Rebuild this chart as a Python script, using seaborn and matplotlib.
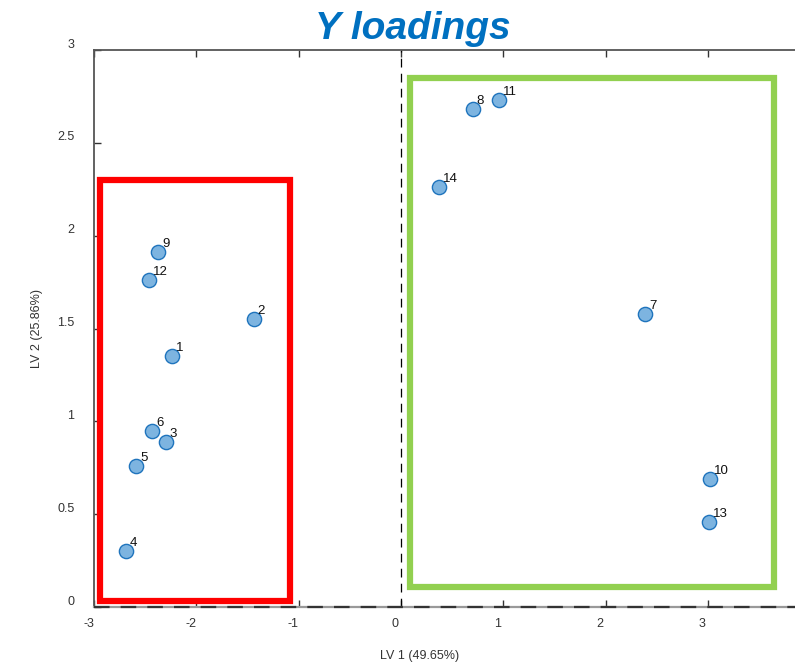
import matplotlib
matplotlib.use("Agg")
import matplotlib.pyplot as plt
import matplotlib.transforms as mtransforms
import seaborn as sns
import pandas as pd

# ── Data: Y loadings ────────────────────────────────────────────────
labels = ["1", "2", "3", "4", "5", "6", "7", "8", "9", "10", "11", "12", "13", "14"]
lv1 = [-2.24, -1.44, -2.30, -2.69, -2.59, -2.43, 2.39, 0.70, -2.37, 3.02, 0.96, -2.46, 3.01, 0.37]
lv2 = [1.35, 1.55, 0.89, 0.30, 0.76, 0.95, 1.58, 2.68, 1.91, 0.69, 2.73, 1.76, 0.46, 2.26]

# group boxes: (x0, y0, x1, y1)
red_box = (-2.94, 0.035, -1.08, 2.30)
green_box = (0.09, 0.11, 3.65, 2.85)

x_ticks = [-3, -2, -1, 0, 1, 2, 3]
y_ticks = [0, 0.5, 1, 1.5, 2, 2.5, 3]
y_ticklabels = ["0", "0.5", "1", "1.5", "2", "2.5", "3"]

df = pd.DataFrame({"lv1": lv1, "lv2": lv2, "label": labels})

sns.set_theme(style="white")
plt.rcParams["font.family"] = ["Liberation Sans", "DejaVu Sans"]
plt.rcParams["axes.unicode_minus"] = False

fig = plt.figure(figsize=(7.95, 6.63), dpi=100)
ax = fig.add_axes([94 / 795, 56 / 663, 706 / 795, 557 / 663])

# ── Group boxes ─────────────────────────────────────────────────────
for (x0, y0, x1, y1), col in [(red_box, "#ff0000"), (green_box, "#92d050")]:
    ax.add_patch(plt.Rectangle((x0, y0), x1 - x0, y1 - y0, fill=False,
                               edgecolor=col, lw=4.5, zorder=1))

# ── Reference lines ─────────────────────────────────────────────────
ax.axvline(0, color="black", lw=0.9, ls=(0, (7, 5)), zorder=2)
ax.axhline(0, color="#333333", lw=1.6, ls=(0, (7, 5)), zorder=4, clip_on=False)

# ── Points + labels ─────────────────────────────────────────────────
sns.scatterplot(data=df, x="lv1", y="lv2", s=105, color="#7db4e0",
                edgecolor="#1f74bd", linewidth=1.0, ax=ax, zorder=3)
for _, r in df.iterrows():
    ax.annotate(r["label"], (r["lv1"], r["lv2"]), xytext=(3, 1.5),
                textcoords="offset points", fontsize=9.5, color="#111111",
                ha="left", va="bottom", zorder=5)

ax.set_xlim(-3, 3.9)
ax.set_ylim(0, 3)
ax.set_xticks(x_ticks)
ax.set_yticks(y_ticks)
ax.set_yticklabels(y_ticklabels)

ax.spines["right"].set_visible(False)
for side in ["left", "top"]:
    ax.spines[side].set_color("#555555")
    ax.spines[side].set_linewidth(1.3)
ax.spines["bottom"].set_color("#999999")
ax.spines["bottom"].set_linewidth(1.6)

ax.tick_params(axis="both", which="both", direction="in", length=5, width=1,
               color="#333333", labelsize=9, labelcolor="#333333")
ax.tick_params(axis="x", top=True, bottom=True, pad=10)
ax.tick_params(axis="y", left=True, right=False, pad=14)

# nudge tick labels the way the original renderer placed them
for t in ax.get_yticklabels():
    t.set_transform(t.get_transform() + mtransforms.ScaledTranslation(0, 5 / 72, fig.dpi_scale_trans))
for t in ax.get_xticklabels():
    t.set_transform(t.get_transform() + mtransforms.ScaledTranslation(-4 / 72, 2 / 72, fig.dpi_scale_trans))

ax.set_xlabel("LV 1 (49.65%)", fontsize=9, color="#333333")
ax.set_ylabel("LV 2 (25.86%)", fontsize=9, color="#333333", labelpad=10)
ax.xaxis.set_label_coords((420 - 94) / 706, -(650 - 607) / 557)

fig.text(413 / 795, 1 - 29 / 663, "Y loadings", ha="center", va="center",
         fontsize=28, fontweight="bold", fontstyle="italic", color="#0070c0")

fig.savefig("out.png", dpi=100)
